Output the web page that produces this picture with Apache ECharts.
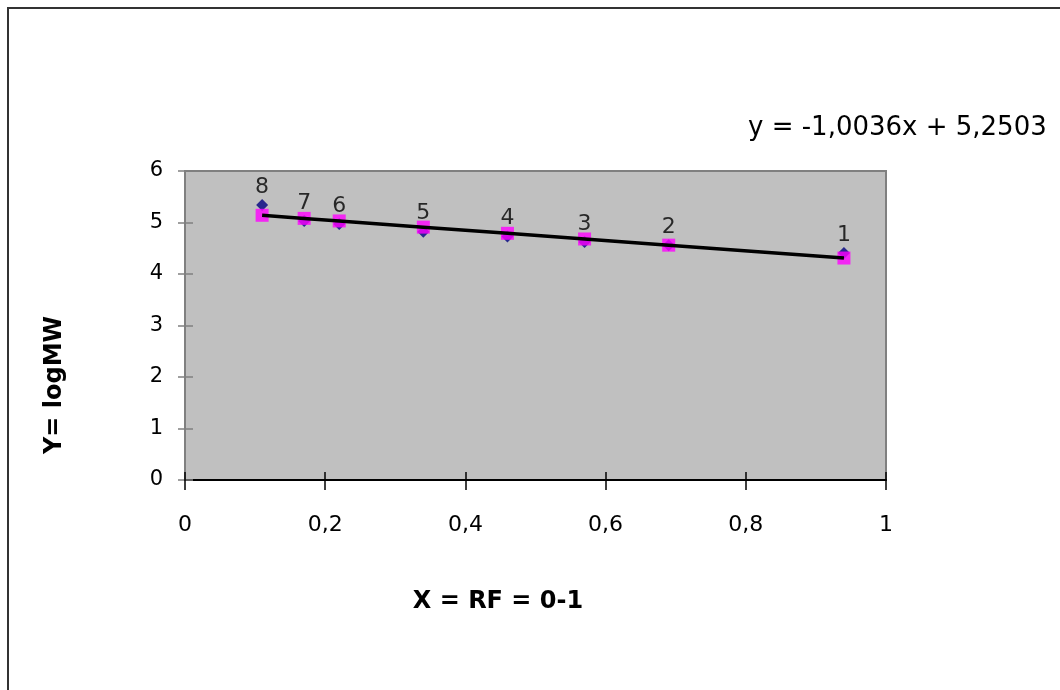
<!DOCTYPE html>
<html>
<head>
<meta charset="utf-8">
<script src="https://cdn.jsdelivr.net/npm/echarts@6/dist/echarts.min.js"></script>
<style>
  html, body { margin: 0; padding: 0; background: #fff; }
  #chart { width: 1060px; height: 690px; }
</style>
</head>
<body>
<div id="chart"></div>
<script>
// RF values of the marker bands (x) and their labels
var rf = [0.94, 0.69, 0.57, 0.46, 0.34, 0.22, 0.17, 0.11];
var bandLabels = ['1', '2', '3', '4', '5', '6', '7', '8'];
// measured logMW (blue diamonds)
var logMW = [4.41, 4.56, 4.62, 4.73, 4.82, 4.97, 5.03, 5.34];
// values on the fitted line (pink squares)
var fitted = [4.31, 4.56, 4.68, 4.79, 4.91, 5.03, 5.08, 5.14];
var equation = 'y = -1,0036x + 5,2503';

var chart = echarts.init(document.getElementById('chart'));

function comma(v) {
  return String(v).replace('.', ',');
}

function pairs(xs, ys) {
  return xs.map(function (x, i) { return [x, ys[i]]; });
}

var font = '"DejaVu Sans", Arial, sans-serif';

var option = {
  animation: false,
  textStyle: { fontFamily: font },
  grid: {
    left: 185, right: 174, top: 171, bottom: 210,
    show: true,
    backgroundColor: '#C0C0C0',
    borderColor: '#808080',
    borderWidth: 2
  },
  graphic: [
    {
      type: 'rect',
      shape: { x: 8, y: 8, width: 1200, height: 800 },
      style: { fill: 'none', stroke: '#333', lineWidth: 2 },
      silent: true
    },
    {
      type: 'text',
      x: 748, y: 128,
      style: { text: equation, font: '26px ' + font, fill: '#000', verticalAlign: 'middle' }
    },
    {
      type: 'text',
      x: 498, y: 602,
      style: {
        text: 'X = RF = 0-1', font: 'bold 24px ' + font, fill: '#000',
        align: 'center', verticalAlign: 'middle'
      }
    },
    {
      type: 'text',
      x: 55, y: 385,
      rotation: Math.PI / 2,
      style: {
        text: 'Y= logMW', font: 'bold 24px ' + font, fill: '#000',
        align: 'center', verticalAlign: 'middle'
      }
    }
  ],
  xAxis: [
    {
      type: 'value', min: 0, max: 1, interval: 0.2,
      axisLine: { show: true, onZero: false, lineStyle: { color: '#000', width: 2 } },
      axisTick: { show: true, length: 10, lineStyle: { color: '#000', width: 1.5 } },
      axisLabel: { fontSize: 22, color: '#000', margin: 34, formatter: comma },
      splitLine: { show: false }
    },
    {
      type: 'value', min: 0, max: 1, interval: 0.2, position: 'bottom',
      axisLine: { show: false },
      axisTick: { show: true, inside: true, length: 8, lineStyle: { color: '#000', width: 1.5 } },
      axisLabel: { show: false },
      splitLine: { show: false }
    }
  ],
  yAxis: [
    {
      type: 'value', min: 0, max: 6, interval: 1,
      axisLine: { show: true, onZero: false, lineStyle: { color: '#808080', width: 2 } },
      axisTick: { show: true, length: 7, lineStyle: { color: '#808080', width: 1.5 } },
      axisLabel: { fontSize: 21, color: '#000', margin: 22 },
      splitLine: { show: false }
    },
    {
      type: 'value', min: 0, max: 6, interval: 1, position: 'left',
      axisLine: { show: false },
      axisTick: { show: true, inside: true, length: 8, lineStyle: { color: '#808080', width: 1.5 } },
      axisLabel: { show: false },
      splitLine: { show: false }
    }
  ],
  series: [
    {
      name: 'logMW',
      type: 'scatter',
      symbol: 'diamond',
      symbolSize: [12, 12],
      itemStyle: { color: '#000080' },
      data: pairs(rf, logMW),
      label: {
        show: true,
        position: 'top',
        distance: 1,
        fontSize: 22,
        color: '#000',
        formatter: function (p) { return bandLabels[p.dataIndex]; }
      },
      z: 2
    },
    {
      name: 'fit points',
      type: 'scatter',
      symbol: 'rect',
      symbolSize: 13,
      itemStyle: { color: '#FF00FF' },
      data: pairs(rf, fitted),
      z: 3
    },
    {
      name: 'trend',
      type: 'line',
      showSymbol: false,
      symbol: 'none',
      lineStyle: { color: '#000', width: 3.5 },
      data: pairs(rf, fitted),
      z: 4
    }
  ]
};

chart.setOption(option);
</script>
</body>
</html>
